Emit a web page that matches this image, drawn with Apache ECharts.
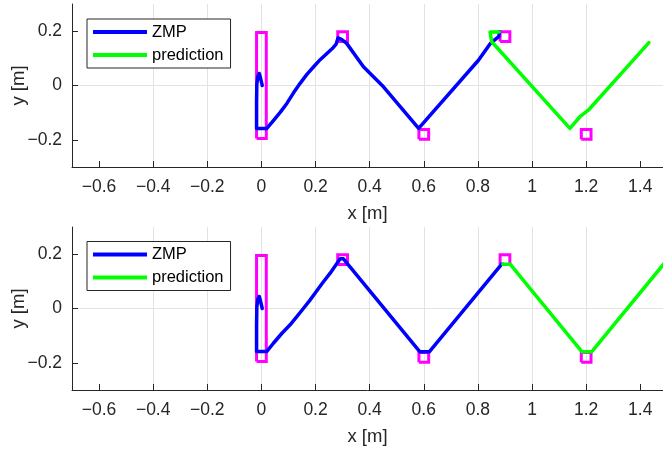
<!DOCTYPE html>
<html>
<head>
<meta charset="utf-8">
<script src="https://cdn.jsdelivr.net/npm/echarts@6/dist/echarts.min.js"></script>
<style>
html,body{margin:0;padding:0;background:#fff;}
#chart{width:663px;height:454px;}
</style>
</head>
<body>
<div id="chart"></div>
<script>
// ---- data (metres) ----
const xTicks = [-0.6, -0.4, -0.2, 0, 0.2, 0.4, 0.6, 0.8, 1, 1.2, 1.4];
const yTicks = [-0.2, 0, 0.2];
const xRange = [-0.7, 1.484];
const yRange = [-0.3, 0.3];

// top panel
const zmpTopX = [0.003, -0.004, -0.008, -0.013, -0.017, -0.018, -0.018, 0.02, 0.045, 0.07, 0.094, 0.118, 0.143, 0.168, 0.193, 0.218, 0.242, 0.262, 0.276, 0.283, 0.296, 0.315, 0.377, 0.402, 0.451, 0.581, 0.802, 0.846, 0.877, 0.880];
const zmpTopY = [0.0, 0.03, 0.044, 0.035, 0.005, -0.065, -0.158, -0.158, -0.128, -0.098, -0.066, -0.028, 0.008, 0.041, 0.069, 0.096, 0.118, 0.136, 0.152, 0.175, 0.170, 0.155, 0.069, 0.044, -0.005, -0.158, 0.093, 0.155, 0.180, 0.198];
const predTopX = [0.879, 0.845, 0.851, 1.140, 1.177, 1.208, 1.432];
const predTopY = [0.197, 0.197, 0.161, -0.158, -0.115, -0.091, 0.158];

// bottom panel
const zmpBotX = [0.003, -0.004, -0.008, -0.013, -0.017, -0.018, -0.018, 0.02, 0.045, 0.075, 0.106, 0.13, 0.155, 0.178, 0.198, 0.225, 0.254, 0.275, 0.291, 0.303, 0.585, 0.621, 0.888, 0.892];
const zmpBotY = [0.0, 0.03, 0.044, 0.035, 0.005, -0.065, -0.158, -0.158, -0.127, -0.092, -0.060, -0.031, 0.0, 0.029, 0.056, 0.093, 0.130, 0.160, 0.183, 0.183, -0.159, -0.159, 0.163, 0.163];
const predBotX = [0.892, 0.919, 1.184, 1.221, 1.50];
const predBotY = [0.163, 0.163, -0.159, -0.159, 0.18];

// footprints: centres and half-sizes (m)
const footX = [0.0, 0.3, 0.6, 0.9, 1.2];
const footY = [0.0, 0.18, -0.18, 0.18, -0.18];
const footHalfX = [0.018, 0.018, 0.018, 0.018, 0.018];
const footHalfY = [0.195, 0.018, 0.018, 0.018, 0.018];

const seriesNames = ['ZMP', 'prediction'];
const axisNames = ['x [m]', 'y [m]'];

// ---- build ----
const FONT = "'Liberation Sans', Arial, Helvetica, sans-serif";
const TXT = '#262626';
const pair = (xs, ys) => xs.map((x, i) => [x, ys[i]]);
const isTick = (v, arr) => arr.some(t => Math.abs(t - v) < 1e-6);
const fmt = arr => v => isTick(v, arr) ? String(+v.toFixed(6)).replace('-', '\u2212') : '';

const grids = [
  {left: 72, right: 0, top: 4, height: 163, outerBoundsMode: 'none', containLabel: false},
  {left: 72, right: 0, top: 227, height: 163, outerBoundsMode: 'none', containLabel: false}
];

function xAxis(i) {
  return {
    type: 'value', gridIndex: i, min: xRange[0], max: xRange[1],
    minInterval: 0.2, maxInterval: 0.2, splitNumber: 11,
    name: axisNames[0], nameLocation: 'middle', nameGap: 37, nameMoveOverlap: false,
    nameTextStyle: {fontFamily: FONT, fontSize: 18.5, color: TXT},
    axisLine: {show: true, onZero: false, lineStyle: {color: TXT, width: 1}},
    axisTick: {show: true, inside: true, length: 6, customValues: xTicks, lineStyle: {color: TXT}},
    axisLabel: {customValues: xTicks, formatter: fmt(xTicks), margin: 11, fontFamily: FONT, fontSize: 17.5, color: TXT},
    splitLine: {show: true, showMinLine: false, showMaxLine: false, lineStyle: {color: '#e3e3e3', width: 1}}
  };
}
function yAxis(i) {
  return {
    type: 'value', gridIndex: i, min: yRange[0], max: yRange[1],
    minInterval: 0.2, maxInterval: 0.2, splitNumber: 3,
    name: axisNames[1], nameLocation: 'middle', nameGap: 44, nameRotate: 90, nameMoveOverlap: false,
    nameTextStyle: {fontFamily: FONT, fontSize: 18.5, color: TXT},
    axisLine: {show: true, onZero: false, lineStyle: {color: TXT, width: 1}},
    axisTick: {show: true, inside: true, length: 6, customValues: yTicks, lineStyle: {color: TXT}},
    axisLabel: {customValues: yTicks, formatter: fmt(yTicks), margin: 10, fontFamily: FONT, fontSize: 17.5, color: TXT},
    splitLine: {show: true, showMinLine: false, showMaxLine: false, lineStyle: {color: '#e3e3e3', width: 1}}
  };
}

function footSeries(i) {
  return footX.map((cx, k) => {
    const hx = footHalfX[k], hy = footHalfY[k], cy = footY[k];
    return {
      type: 'line', name: 'foot', xAxisIndex: i, yAxisIndex: i, z: 2,
      symbol: 'none', silent: true, animation: false,
      lineStyle: {color: '#ff00ff', width: 3, join: 'miter'},
      data: [[cx - hx, cy - hy], [cx + hx, cy - hy], [cx + hx, cy + hy], [cx - hx, cy + hy], [cx - hx, cy - hy]]
    };
  });
}
function trajSeries(i, name, xs, ys, color, z) {
  return {
    type: 'line', name: name, xAxisIndex: i, yAxisIndex: i, z: z,
    symbol: 'none', showSymbol: false, animation: false, smooth: false,
    lineStyle: {color: color, width: 3.5, join: 'round', cap: 'round'},
    itemStyle: {color: color},
    data: pair(xs, ys)
  };
}

const series = [].concat(
  footSeries(0), footSeries(1),
  [trajSeries(0, seriesNames[0], zmpTopX, zmpTopY, '#0000ff', 3),
   trajSeries(0, seriesNames[1], predTopX, predTopY, '#00ff00', 4),
   trajSeries(1, seriesNames[0], zmpBotX, zmpBotY, '#0000ff', 3),
   trajSeries(1, seriesNames[1], predBotX, predBotY, '#00ff00', 4)]
);

function legend(top) {
  return {
    orient: 'vertical', left: 87, top: top,
    data: seriesNames.map(n => ({name: n, icon: 'rect'})),
    itemWidth: 54, itemHeight: 4, itemGap: 5,
    padding: [4, 7, 4, 6],
    backgroundColor: '#fff', borderColor: TXT, borderWidth: 1, borderRadius: 0,
    textStyle: {fontFamily: FONT, fontSize: 16.5, color: '#000', lineHeight: 18},
    selectedMode: false
  };
}

const chart = echarts.init(document.getElementById('chart'), null, {renderer: 'canvas'});
chart.setOption({
  backgroundColor: '#fff',
  animation: false,
  grid: grids,
  xAxis: [xAxis(0), xAxis(1)],
  yAxis: [yAxis(0), yAxis(1)],
  legend: [legend(19), legend(241.5)],
  series: series
});
</script>
</body>
</html>
